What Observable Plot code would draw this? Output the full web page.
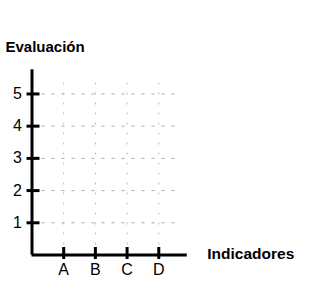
<!DOCTYPE html>
<html>
<head>
<meta charset="utf-8">
<script src="https://cdn.jsdelivr.net/npm/d3@7"></script>
<script src="https://cdn.jsdelivr.net/npm/@observablehq/plot@0.6"></script>
<style>
  html, body { margin: 0; padding: 0; background: white; }
</style>
</head>
<body>
<div id="chart"></div>
<script>
const categories = ["A", "B", "C", "D"];
const xPositions = [1, 2, 3, 4];
const yTicks = [1, 2, 3, 4, 5];
const xDomain = [0, 4.9];
const yDomain = [0, 5.75];
const gridEndX = 4.55;
const gridEndY = 5.5;
const xTitle = "Indicadores";
const yTitle = "Evaluación";

const font = "'Liberation Sans', Arial, sans-serif";

const chart = Plot.plot({
  width: 311,
  height: 289,
  marginLeft: 31.5,
  marginRight: 124.2,
  marginTop: 69.3,
  marginBottom: 34.5,
  x: {domain: xDomain, label: null},
  y: {domain: yDomain, label: null},
  style: {fontFamily: font, fontSize: "16px", background: "white", color: "black"},
  marks: [
    Plot.ruleY(yTicks, {x1: xDomain[0], x2: gridEndX, stroke: "#aaa", strokeDasharray: "3,7"}),
    Plot.ruleX(xPositions, {y1: yDomain[0], y2: gridEndY, stroke: "#bbb", strokeDasharray: "2,8"}),
    Plot.ruleY([0], {x1: xDomain[0], x2: xDomain[1], stroke: "black", strokeWidth: 3}),
    Plot.ruleX([0], {y1: yDomain[0], y2: yDomain[1], stroke: "black", strokeWidth: 3}),
    Plot.axisY({ticks: yTicks, tickSize: 13, tickFormat: () => "", dx: 8, strokeWidth: 3, label: null}),
    Plot.axisY({ticks: yTicks, tickSize: 0, tickPadding: 10, tickFormat: d => String(d), fontSize: 16, label: null}),
    Plot.axisX({ticks: xPositions, tickSize: 12, tickFormat: () => "", dy: -7.5, strokeWidth: 3, label: null}),
    Plot.axisX({ticks: xPositions, tickSize: 0, tickPadding: 9, tickFormat: d => categories[xPositions.indexOf(d)], fontSize: 16, label: null}),
    Plot.text([yTitle], {frameAnchor: "top-left", textAnchor: "start", lineAnchor: "bottom", dx: -26.5, dy: -18, fontSize: 15, fontWeight: "bold"}),
    Plot.text([xTitle], {frameAnchor: "bottom-right", textAnchor: "start", lineAnchor: "middle", dx: 20, dy: -1, fontSize: 15.5, fontWeight: "bold", letterSpacing: "0.4px"})
  ]
});
document.getElementById("chart").appendChild(chart);
</script>
</body>
</html>
